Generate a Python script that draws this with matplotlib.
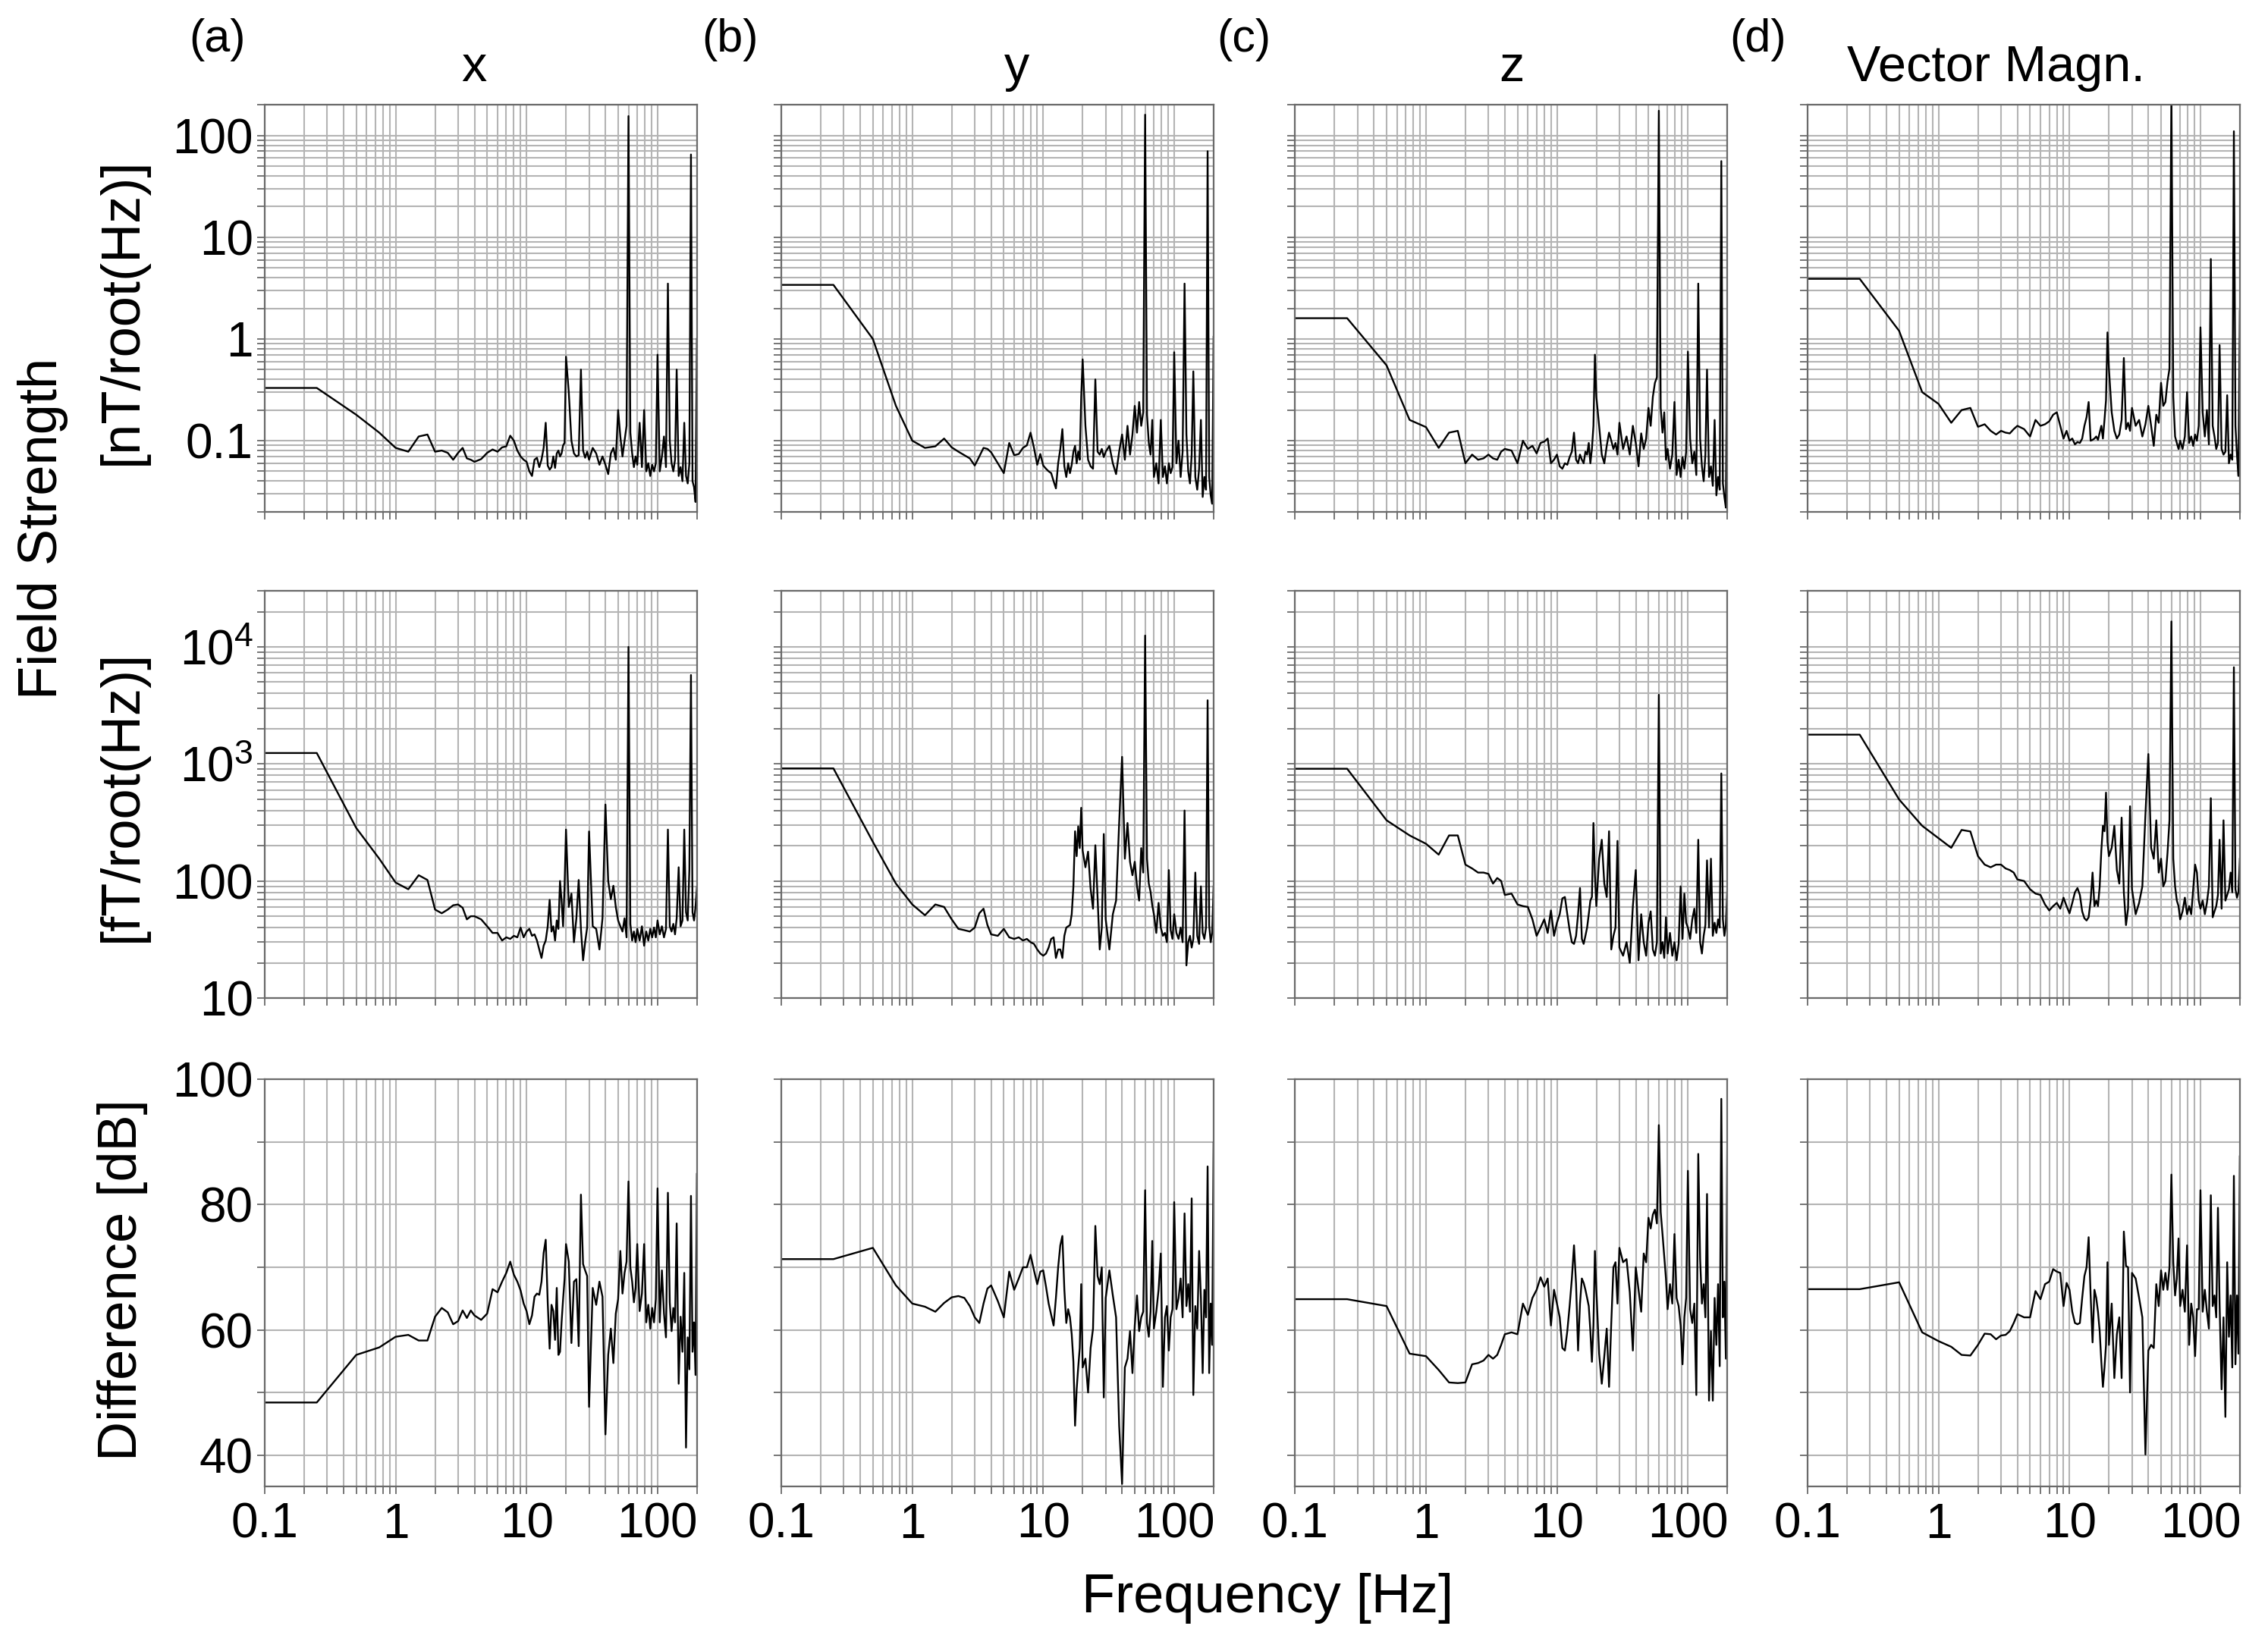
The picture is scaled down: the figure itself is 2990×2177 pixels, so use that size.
import matplotlib
matplotlib.use("Agg")
import matplotlib.pyplot as plt
from matplotlib.ticker import LogLocator, NullFormatter, FixedLocator, MultipleLocator

plt.rcParams['font.family'] = ['Liberation Sans', 'DejaVu Sans']
plt.rcParams['mathtext.fontset'] = 'custom'
plt.rcParams['mathtext.rm'] = 'Liberation Sans'
plt.rcParams['mathtext.it'] = 'Liberation Sans:italic'

# shared frequency grid [Hz]
freq = [0.1, 0.25, 0.5, 0.75, 1.0, 1.25, 1.5, 1.75, 2.0, 2.25, 2.5, 2.75, 3.0, 3.25, 3.5, 3.75,
        4.0, 4.5, 5.0, 5.5, 6.0, 6.5, 7.0, 7.5, 8.0, 8.5, 9.0, 9.5,
        10, 10.5, 11, 11.5, 12, 12.5, 13, 13.5, 14, 14.5, 15, 15.5, 16, 16.5, 17, 17.5, 18, 18.5, 19, 19.5,
        20, 21, 22, 23, 24, 25, 26, 27, 28, 29,
        30, 32, 34, 36, 38, 40, 42, 44, 46, 48,
        50, 52, 54, 56, 58, 60, 62, 64, 66, 68,
        70, 73, 76, 79, 82, 85, 88, 91, 94, 97,
        100, 104, 108, 112, 116, 120, 124, 128, 132, 136,
        140, 145, 150, 155, 160, 165, 170, 175, 180, 185,
        190, 195, 200]

# top row: field strength [nT/root(Hz)]
nT_x = [0.33, 0.33, 0.18, 0.12, 0.085, 0.078, 0.11, 0.115, 0.078, 0.08, 0.076, 0.065, 0.076, 0.085, 0.067, 0.065,
        0.062, 0.066, 0.076, 0.082, 0.078, 0.086, 0.088, 0.112, 0.1, 0.08, 0.07, 0.065,
        0.062, 0.05, 0.045, 0.065, 0.068, 0.055, 0.065, 0.085, 0.15, 0.057, 0.052, 0.055, 0.07, 0.054, 0.075, 0.08, 0.07, 0.075, 0.09, 0.095,
        0.67, 0.3, 0.1, 0.075, 0.07, 0.072, 0.5, 0.08, 0.068, 0.078,
        0.065, 0.085, 0.075, 0.058, 0.07, 0.058, 0.047, 0.075, 0.085, 0.065,
        0.2, 0.11, 0.07, 0.1, 0.14, 155, 0.12, 0.075, 0.055, 0.07,
        0.058, 0.15, 0.055, 0.2, 0.05, 0.06, 0.045, 0.058, 0.05, 0.06,
        0.7, 0.05, 0.07, 0.11, 0.055, 3.5, 0.1, 0.06, 0.05, 0.065,
        0.5, 0.045, 0.055, 0.04, 0.15, 0.045, 0.038, 0.06, 65, 0.04,
        0.035, 0.025, 1.0]
nT_y = [3.4, 3.4, 1.0, 0.22, 0.1, 0.085, 0.088, 0.105, 0.086, 0.078, 0.072, 0.067, 0.057, 0.07, 0.085, 0.083,
        0.077, 0.06, 0.048, 0.095, 0.072, 0.074, 0.085, 0.09, 0.12, 0.085, 0.058, 0.074,
        0.057, 0.053, 0.05, 0.048, 0.04, 0.034, 0.06, 0.083, 0.13, 0.056, 0.044, 0.06, 0.048, 0.058, 0.078, 0.089, 0.06, 0.078, 0.065, 0.27,
        0.63, 0.14, 0.065, 0.056, 0.053, 0.4, 0.078, 0.073, 0.083, 0.069,
        0.078, 0.089, 0.06, 0.047, 0.078, 0.115, 0.065, 0.14, 0.073, 0.115,
        0.22, 0.12, 0.24, 0.14, 0.19, 160, 0.18, 0.095, 0.073, 0.16,
        0.044, 0.06, 0.038, 0.16, 0.044, 0.056, 0.038, 0.06, 0.048, 0.055,
        0.74, 0.06, 0.1, 0.044, 0.078, 3.5, 0.115, 0.05, 0.038, 0.073,
        0.48, 0.044, 0.033, 0.053, 0.16, 0.028, 0.044, 0.033, 70, 0.044,
        0.029, 0.024, 1.05]
nT_z = [1.6, 1.6, 0.55, 0.16, 0.136, 0.085, 0.12, 0.125, 0.06, 0.073, 0.065, 0.067, 0.073, 0.067, 0.065, 0.078,
        0.083, 0.08, 0.06, 0.1, 0.083, 0.089, 0.075, 0.095, 0.098, 0.105, 0.06, 0.065,
        0.073, 0.056, 0.053, 0.06, 0.058, 0.069, 0.078, 0.12, 0.065, 0.06, 0.073, 0.065, 0.06, 0.078, 0.073, 0.095, 0.06, 0.083, 0.14, 0.7,
        0.27, 0.14, 0.073, 0.06, 0.089, 0.12, 0.1, 0.083, 0.095, 0.073,
        0.15, 0.083, 0.11, 0.073, 0.14, 0.095, 0.056, 0.118, 0.083, 0.105,
        0.21, 0.14, 0.27, 0.37, 0.42, 175, 0.21, 0.12, 0.19, 0.065,
        0.083, 0.053, 0.073, 0.24, 0.046, 0.065, 0.044, 0.069, 0.053, 0.078,
        0.75, 0.105, 0.06, 0.078, 0.046, 3.5, 0.105, 0.056, 0.04, 0.073,
        0.5, 0.044, 0.056, 0.036, 0.16, 0.029, 0.044, 0.033, 56, 0.038,
        0.028, 0.022, 1.1]
nT_mag = [3.9, 3.9, 1.2, 0.3, 0.23, 0.15, 0.2, 0.21, 0.137, 0.145, 0.125, 0.115, 0.125, 0.12, 0.118, 0.13,
          0.14, 0.13, 0.11, 0.16, 0.14, 0.145, 0.155, 0.18, 0.19, 0.14, 0.105, 0.125,
          0.1, 0.105, 0.092, 0.097, 0.095, 0.105, 0.14, 0.17, 0.24, 0.1, 0.102, 0.105, 0.11, 0.102, 0.12, 0.14, 0.105, 0.16, 0.25, 1.16,
          0.51, 0.19, 0.125, 0.105, 0.115, 0.16, 0.65, 0.13, 0.15, 0.125,
          0.21, 0.14, 0.16, 0.11, 0.145, 0.22, 0.14, 0.089, 0.18, 0.15,
          0.37, 0.22, 0.24, 0.38, 0.51, 250, 0.27, 0.11, 0.095, 0.083,
          0.1, 0.083, 0.11, 0.3, 0.095, 0.11, 0.089, 0.115, 0.1, 0.14,
          1.3, 0.19, 0.11, 0.2, 0.092, 6.1, 0.14, 0.11, 0.083, 0.095,
          0.87, 0.083, 0.073, 0.078, 0.28, 0.06, 0.073, 0.065, 110, 0.14,
          0.073, 0.045, 1.9]

# middle row: field strength [fT/root(Hz)]
fT_x = [1240, 1240, 284, 155, 97, 85, 112, 102, 57, 53, 57, 62, 63, 59, 47, 50,
        50, 47, 41, 36, 36, 31, 33, 32, 34, 33, 40, 33,
        37, 39, 34, 35, 31, 26, 22, 28, 31, 41, 69, 37, 41, 31, 46, 39, 100, 68, 41, 90,
        275, 60, 78, 30, 48, 102, 39, 21, 30, 40,
        265, 41, 39, 26, 48, 450, 100, 70, 91, 60,
        46, 41, 37, 48, 33, 10000, 43, 31, 37, 30,
        39, 31, 41, 28, 37, 31, 39, 33, 40, 33,
        46, 35, 41, 33, 39, 275, 41, 37, 43, 35,
        48, 131, 41, 46, 275, 54, 46, 125, 5750, 54,
        46, 60, 89]
fT_y = [916, 916, 216, 95, 63, 51, 63, 60, 47, 39, 38, 37, 40, 53, 58, 42,
        35, 34, 39, 33, 32, 33, 31, 32, 30, 29, 26, 24,
        23, 24, 27, 32, 33, 22, 26, 26, 22, 34, 40, 41, 42, 52, 90, 266, 163, 293, 191, 422,
        182, 131, 178, 86, 58, 202, 72, 26, 40, 252,
        47, 26, 52, 68, 313, 1150, 155, 313, 146, 112,
        146, 90, 68, 191, 118, 12500, 155, 95, 81, 62,
        52, 36, 65, 40, 34, 36, 30, 124, 38, 32,
        52, 36, 32, 40, 30, 400, 19, 30, 34, 27,
        32, 118, 34, 29, 90, 36, 32, 40, 3500, 42,
        30, 36, 90]
fT_z = [910, 910, 330, 245, 208, 168, 245, 245, 138, 128, 118, 118, 115, 95, 106, 100,
        76, 78, 63, 61, 60, 47, 34, 40, 47, 36, 56, 34,
        44, 52, 71, 73, 52, 38, 30, 29, 34, 52, 87, 32, 29, 34, 40, 52, 68, 73, 313, 112,
        61, 155, 225, 95, 73, 266, 26, 34, 40, 220,
        27, 23, 30, 20, 61, 124, 21, 52, 30, 23,
        44, 55, 26, 23, 30, 3900, 24, 30, 22, 49,
        24, 36, 23, 30, 21, 29, 90, 32, 78, 44,
        40, 32, 47, 58, 36, 225, 30, 24, 34, 42,
        150, 40, 155, 34, 44, 36, 47, 40, 830, 47,
        34, 42, 85]
fT_mag = [1780, 1780, 497, 296, 232, 192, 273, 265, 163, 138, 131, 138, 138, 128, 124, 118,
          103, 100, 85, 78, 76, 63, 56, 61, 65, 58, 72, 61,
          53, 65, 80, 87, 76, 55, 48, 46, 49, 68, 118, 61, 68, 61, 90, 182, 296, 266, 569, 215,
          163, 192, 296, 124, 95, 348, 80, 42, 58, 435,
          85, 52, 65, 90, 370, 1215, 192, 155, 330, 118,
          155, 90, 100, 172, 330, 16500, 155, 90, 68, 61,
          47, 55, 72, 52, 61, 52, 85, 138, 118, 68,
          58, 68, 52, 65, 90, 510, 49, 55, 61, 76,
          225, 58, 330, 68, 76, 85, 118, 80, 6700, 85,
          72, 80, 155]

# bottom row: difference [dB]
dB_x = [48.4, 48.4, 56.0, 57.2, 58.9, 59.2, 58.3, 58.3, 62.1, 63.5, 62.8, 60.9, 61.4, 63.1, 61.9, 63.1,
        62.3, 61.6, 62.6, 66.5, 66.0, 67.7, 69.1, 70.9, 68.8, 67.7, 66.3, 64.2,
        63.0, 60.9, 62.3, 65.3, 65.8, 65.6, 67.7, 72.3, 74.4, 64.4, 57.0, 64.0, 63.0, 58.4, 66.7, 56.0, 56.5, 61.2, 64.9, 68.1,
        73.7, 70.9, 57.9, 67.7, 68.1, 57.4, 81.6, 70.5, 69.5, 68.6,
        47.7, 66.7, 64.0, 67.7, 65.3, 43.3, 56.0, 60.2, 54.7, 62.6,
        64.9, 72.6, 65.8, 69.1, 70.9, 83.7, 70.0, 67.7, 64.4, 66.7,
        73.7, 63.0, 65.8, 73.7, 61.2, 64.0, 60.2, 63.5, 61.2, 64.9,
        82.6, 61.2, 69.5, 62.6, 58.8, 81.9, 64.4, 59.8, 63.5, 61.2,
        77.0, 51.4, 62.1, 56.5, 69.1, 41.2, 58.8, 53.7, 81.4, 56.5,
        61.2, 52.8, 84.9]
dB_y = [71.3, 71.3, 73.1, 67.1, 64.2, 63.7, 62.9, 64.3, 65.2, 65.4, 65.1, 63.8, 62.0, 61.1, 64.2, 66.6,
        67.1, 64.6, 62.0, 69.3, 66.4, 68.2, 70.0, 70.0, 72.0, 69.5, 67.3, 69.3,
        69.5, 66.9, 64.2, 62.4, 60.7, 65.1, 70.0, 73.5, 75.0, 66.4, 61.1, 63.3, 62.0, 59.3, 54.9, 44.7, 50.5, 54.0, 57.1, 67.3,
        54.0, 55.4, 50.0, 57.1, 60.2, 76.6, 68.6, 67.3, 70.0, 49.2,
        65.1, 69.5, 65.5, 62.0, 44.7, 35.4, 54.0, 55.4, 59.8, 53.1,
        60.7, 65.5, 59.8, 62.0, 62.9, 82.3, 61.1, 58.9, 62.9, 74.2,
        60.2, 62.9, 66.4, 72.2, 50.9, 62.0, 63.8, 56.7, 62.0, 63.3,
        80.4, 63.3, 65.1, 68.2, 62.0, 78.6, 63.8, 67.3, 62.9, 81.0,
        49.6, 63.8, 60.2, 72.6, 65.1, 53.1, 66.4, 62.0, 86.1, 53.1,
        64.2, 57.6, 89.9]
dB_z = [64.9, 64.9, 63.8, 56.2, 55.8, 53.6, 51.6, 51.5, 51.6, 54.5, 54.7, 55.1, 56.0, 55.4, 56.0, 57.6,
        59.3, 59.6, 59.3, 64.2, 62.4, 65.1, 66.4, 68.4, 66.9, 68.2, 60.7, 66.4,
        64.2, 62.0, 57.1, 56.7, 59.8, 63.8, 68.2, 73.5, 67.3, 56.7, 64.2, 68.2, 67.5, 66.4, 65.1, 63.8, 59.8, 54.9, 60.7, 72.6,
        66.4, 56.2, 51.4, 55.8, 60.2, 50.9, 61.1, 70.0, 70.8, 64.2,
        73.1, 70.8, 71.3, 66.0, 56.7, 70.0, 66.4, 62.9, 72.2, 70.8,
        77.9, 76.2, 78.4, 79.2, 77.0, 92.7, 78.8, 75.3, 71.7, 68.2,
        63.3, 67.3, 64.2, 75.3, 65.1, 63.8, 60.7, 54.5, 62.0, 65.1,
        85.4, 63.3, 61.1, 64.2, 49.6, 88.1, 71.3, 64.2, 67.3, 62.0,
        81.7, 48.7, 59.8, 48.7, 65.1, 57.6, 67.3, 54.2, 96.9, 62.0,
        67.7, 55.4, 89.4]
dB_mag = [66.5, 66.5, 67.6, 59.6, 58.2, 57.3, 56.0, 55.9, 57.6, 59.4, 59.3, 58.5, 59.1, 59.2, 59.8, 61.1,
          62.5, 62.0, 62.0, 66.2, 64.9, 67.3, 67.7, 69.7, 69.3, 69.1, 63.8, 67.5,
          66.4, 62.9, 61.1, 60.9, 61.1, 65.1, 68.6, 70.0, 74.8, 65.5, 58.0, 66.4, 65.1, 62.9, 59.8, 54.9, 50.9, 54.0, 57.6, 70.8,
          57.6, 64.2, 52.3, 59.3, 62.0, 52.3, 75.7, 70.2, 70.0, 50.0,
          69.1, 68.2, 65.1, 62.0, 40.1, 56.7, 57.6, 57.1, 67.3, 63.8,
          69.5, 66.4, 69.1, 66.4, 70.0, 84.8, 70.8, 65.5, 68.2, 74.6,
          63.8, 66.4, 62.9, 73.5, 57.6, 64.2, 62.0, 55.8, 63.3, 63.3,
          82.3, 62.9, 66.4, 62.9, 60.2, 81.5, 63.8, 65.5, 62.0, 79.5,
          64.2, 50.5, 62.0, 46.1, 70.8, 58.9, 65.5, 54.0, 84.6, 54.5,
          65.5, 56.2, 87.7]

col_titles = ['x', 'y', 'z', 'Vector Magn.']
panel_tags = ['(a)', '(b)', '(c)', '(d)']
x_ticks = [0.1, 1, 10, 100]
x_ticklabels = ['0.1', '1', '10', '100']

rows = [
    ([nT_x, nT_y, nT_z, nT_mag], 'log', (0.02, 200), [0.1, 1, 10, 100], ['0.1', '1', '10', '100']),
    ([fT_x, fT_y, fT_z, fT_mag], 'log', (10, 30000), [10, 100, 1000, 10000], ['10', '100', '$10^3$', '$10^4$']),
    ([dB_x, dB_y, dB_z, dB_mag], 'linear', (35, 100), [40, 60, 80, 100], ['40', '60', '80', '100']),
]

fig = plt.figure(figsize=(29.9, 21.77), dpi=100)
lefts = [0.1167, 0.3445, 0.571, 0.797]
bottoms = [0.690, 0.3955, 0.0997]
w, h = 0.1906, 0.2465
grid_c = '#b4b4b4'
frame_c = '#6a6a6a'

for r, (series, yscale, ylim, yticks, yticklabels) in enumerate(rows):
    for c in range(4):
        ax = fig.add_axes([lefts[c], bottoms[r], w, h])
        ax.plot(freq, series[c], color='black', lw=1.7)
        ax.set_xscale('log')
        ax.set_xlim(0.1, 200)
        ax.xaxis.set_major_locator(FixedLocator(x_ticks))
        ax.xaxis.set_minor_locator(LogLocator(base=10, subs=range(2, 10)))
        ax.xaxis.set_minor_formatter(NullFormatter())
        ax.set_yscale(yscale)
        ax.set_ylim(*ylim)
        ax.yaxis.set_major_locator(FixedLocator(yticks))
        if yscale == 'log':
            ax.yaxis.set_minor_locator(LogLocator(base=10, subs=range(2, 10)))
        else:
            ax.yaxis.set_minor_locator(MultipleLocator(10))
        ax.yaxis.set_minor_formatter(NullFormatter())
        if c == 0:
            ax.set_yticklabels(yticklabels)
        else:
            ax.set_yticklabels([])
        if r == 2:
            ax.set_xticklabels(x_ticklabels)
        else:
            ax.set_xticklabels([])
        ax.grid(True, which='both', color=grid_c, lw=1.5)
        ax.set_axisbelow(True)
        ax.tick_params(which='both', direction='out', length=7, width=1.3,
                       color=frame_c, labelsize=46)
        ax.tick_params(axis='x', pad=8)
        ax.tick_params(axis='y', pad=4)
        for sp in ax.spines.values():
            sp.set_color(frame_c)
            sp.set_linewidth(1.6)

# column headers and panel tags
tag_x = [0.0957, 0.322, 0.5485, 0.775]
title_x = [0.209, 0.4485, 0.6665, 0.880]
for c in range(4):
    fig.text(tag_x[c], 0.9757, panel_tags[c], fontsize=44, ha='center', va='center')
    fig.text(title_x[c], 0.951, col_titles[c], fontsize=48, ha='center', va='baseline')

fig.text(0.019, 0.680, 'Field Strength', fontsize=52, rotation=90, ha='center', va='center')
fig.text(0.054, 0.8117, '[nT/root(Hz)]', fontsize=52, rotation=90, ha='center', va='center')
fig.text(0.054, 0.518, '[fT/root(Hz)]', fontsize=52, rotation=90, ha='center', va='center')
fig.text(0.054, 0.2247, 'Difference [dB]', fontsize=52, rotation=90, ha='center', va='center')
fig.text(0.559, 0.032, 'Frequency [Hz]', fontsize=52, ha='center', va='center')

fig.savefig('out.png', dpi=100, facecolor='white')
